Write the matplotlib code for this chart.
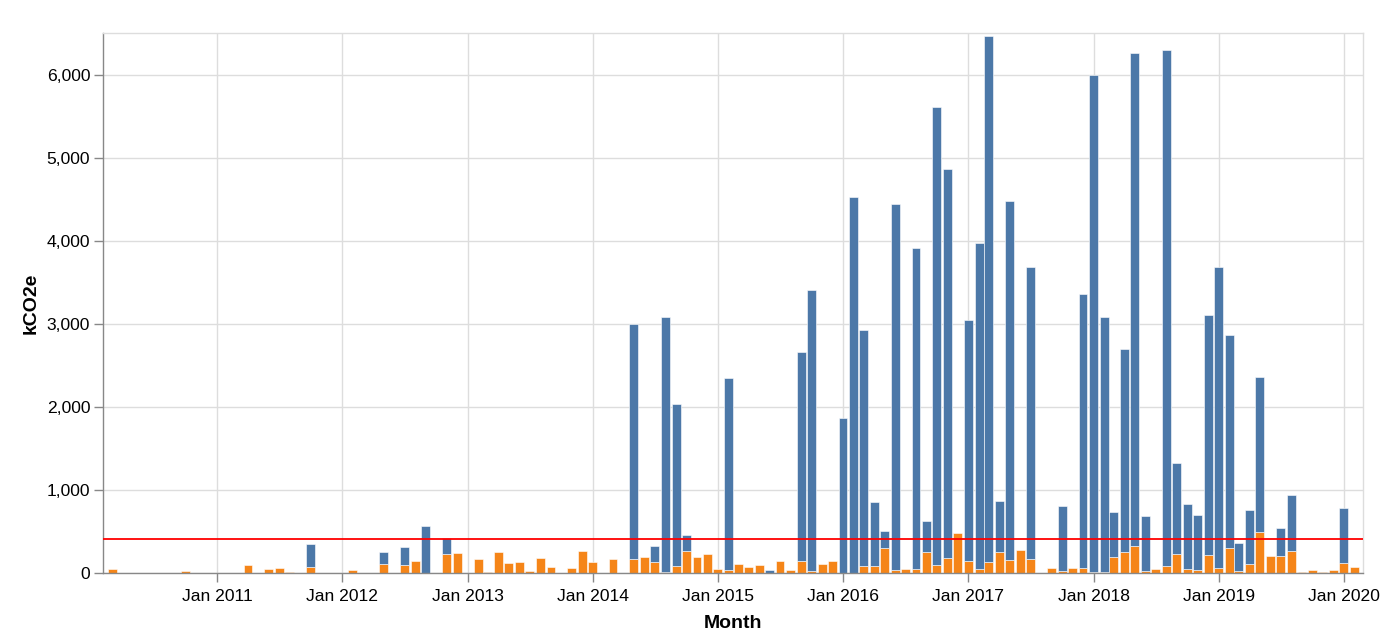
import matplotlib
matplotlib.use("Agg")
import matplotlib.pyplot as plt
import matplotlib.dates as mdates
import matplotlib.ticker as mticker
import pandas as pd
import numpy as np

plt.rcParams['font.family'] = ['Liberation Sans', 'DejaVu Sans']

# ---- data (kCO2e per month) ----
months = [
    "2010-03", "2010-10", "2011-04", "2011-06", "2011-07", "2011-08", "2011-10",
    "2012-02", "2012-05", "2012-07", "2012-08", "2012-09", "2012-11", "2012-12",
    "2013-02", "2013-03", "2013-04", "2013-05", "2013-06", "2013-07", "2013-08",
    "2013-09", "2013-11", "2013-12", "2014-01", "2014-03", "2014-05", "2014-06",
    "2014-07", "2014-08", "2014-09", "2014-10", "2014-11", "2014-12", "2015-01",
    "2015-02", "2015-03", "2015-04", "2015-05", "2015-06", "2015-07", "2015-08",
    "2015-09", "2015-10", "2015-11", "2015-12", "2016-01", "2016-02", "2016-03",
    "2016-04", "2016-05", "2016-06", "2016-07", "2016-08", "2016-09", "2016-10",
    "2016-11", "2016-12", "2017-01", "2017-02", "2017-03", "2017-04", "2017-05",
    "2017-06", "2017-07", "2017-08", "2017-09", "2017-10", "2017-11", "2017-12",
    "2018-01", "2018-02", "2018-03", "2018-04", "2018-05", "2018-06", "2018-07",
    "2018-08", "2018-09", "2018-10", "2018-11", "2018-12", "2019-01", "2019-02",
    "2019-03", "2019-04", "2019-05", "2019-06", "2019-07", "2019-08", "2019-09",
    "2019-10", "2019-11", "2019-12", "2020-01", "2020-02",
]
orange_vals = [
    56, 24, 97, 56, 60, 16, 77,
    44, 109, 105, 145, 0, 234, 242,
    173, 20, 254, 129, 137, 28, 185,
    80, 68, 266, 137, 177, 169, 197,
    137, 16, 85, 266, 201, 229, 52,
    40, 109, 76, 97, 0, 149, 36,
    145, 28, 117, 149, 0, 0, 89,
    93, 302, 36, 48, 52, 258, 101,
    189, 479, 149, 56, 137, 258, 161,
    278, 169, 8, 60, 32, 60, 64,
    20, 12, 197, 258, 334, 28, 52,
    93, 234, 56, 40, 221, 60, 310,
    28, 117, 499, 209, 209, 274, 16,
    36, 12, 40, 129, 72,
]
blue_vals = [
    0, 0, 0, 0, 0, 0, 277,
    0, 149, 217, 0, 564, 193, 0,
    0, 0, 0, 0, 0, 0, 0,
    0, 0, 0, 0, 0, 2826, 0,
    189, 3064, 1956, 197, 0, 0, 0,
    2311, 0, 0, 0, 44, 0, 0,
    2512, 3377, 0, 0, 1872, 4525, 2838,
    765, 205, 4409, 0, 3861, 366, 5509,
    4677, 0, 2895, 3914, 6329, 608, 4315,
    0, 3519, 0, 0, 773, 0, 3302,
    5972, 3068, 540, 2439, 5931, 664, 0,
    6204, 1091, 781, 665, 2890, 3625, 2560,
    335, 640, 1860, 0, 335, 664, 0,
    0, 0, 0, 656, 0,
]
threshold = 410
year_ticks = ["2011", "2012", "2013", "2014", "2015", "2016", "2017", "2018", "2019", "2020"]

# ---- figure ----
W, H = 1387, 638
fig = plt.figure(figsize=(W / 100, H / 100), dpi=100)
left, right, top, bottom = 103, 1363, 33, 573.3
ax = fig.add_axes([left / W, 1 - bottom / H, (right - left) / W, (bottom - top) / H])

dates = pd.to_datetime(months, format="%Y-%m")
orange = np.array(orange_vals, dtype=float)
blue = np.array(blue_vals, dtype=float)

mo = orange > 0
mb = blue > 0
ax.bar(dates[mo], orange[mo], width=26, align="center", color="#f58518",
       edgecolor="white", linewidth=0.4, zorder=2)
ax.bar(dates[mb], blue[mb], bottom=orange[mb], width=26, align="center",
       color="#4c78a8", edgecolor="white", linewidth=0.4, zorder=2)

ax.axhline(threshold, color="#ff0000", linewidth=1.3, zorder=3)

ax.set_xlim(pd.Timestamp("2010-02-02"), pd.Timestamp("2020-02-26"))
ax.set_ylim(0, 6500)

tick_dates = [pd.Timestamp(f"{y}-01-01") for y in year_ticks]
ax.set_xticks(tick_dates)
ax.set_xticklabels([f"Jan {y}" for y in year_ticks])
ax.set_yticks(np.arange(0, 6001, 1000))
ax.yaxis.set_major_formatter(mticker.FuncFormatter(lambda v, p: f"{int(v):,}"))

ax.grid(True, color="#dddddd", linewidth=1.0, zorder=0)
ax.set_axisbelow(True)

for s in ["left", "bottom"]:
    ax.spines[s].set_color("#888888")
    ax.spines[s].set_linewidth(1.0)
for s in ["top", "right"]:
    ax.spines[s].set_color("#dddddd")
    ax.spines[s].set_linewidth(1.0)

ax.tick_params(axis="both", length=6.2, width=1.0, color="#888888",
               labelsize=12.6, labelcolor="#000000")
ax.tick_params(axis="x", pad=5)
ax.tick_params(axis="y", pad=3)

ax.set_xlabel("Month", fontsize=14, fontweight="bold", labelpad=8)
ax.set_ylabel("kCO2e", fontsize=14, fontweight="bold", labelpad=5)

fig.savefig("out.png", dpi=100)
